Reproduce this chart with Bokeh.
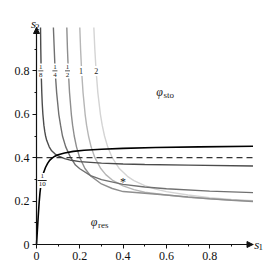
from bokeh.plotting import figure
from bokeh.models import LinearAxis, FixedTicker, Range1d, Arrow, NormalHead
from bokeh.core.properties import value
from bokeh.embed import file_html
from bokeh.resources import INLINE

# ---------------- data ----------------
tick_vals = [0, 0.2, 0.4, 0.6, 0.8]
tick_labels = ["0", "0.2", "0.4", "0.6", "0.8"]
minor_vals = [0.1, 0.3, 0.5, 0.7, 0.9]

# curve labelled 1/10 (black, rising)
x_tenth = [0, 0.004, 0.008, 0.012, 0.016, 0.02, 0.026, 0.033, 0.042, 0.052, 0.062, 0.072,
           0.085, 0.1, 0.13, 0.17, 0.22, 0.3, 0.4, 0.55, 0.75, 1.0]
y_tenth = [0, 0.065, 0.13, 0.19, 0.238, 0.272, 0.305, 0.332, 0.356, 0.375, 0.389, 0.398,
           0.407, 0.414, 0.422, 0.429, 0.434, 0.439, 0.443, 0.447, 0.45, 0.453]

# curve 1/8
x_eighth = [0.0186, 0.0198, 0.0215, 0.0244, 0.0265, 0.0295, 0.0341, 0.0383, 0.042, 0.047,
            0.0587, 0.07, 0.085, 0.1, 0.13, 0.16, 0.2, 0.3, 0.4, 0.5, 0.7, 1.0]
y_eighth = [1.0, 0.9, 0.8, 0.7, 0.65, 0.6, 0.55, 0.52, 0.5, 0.48,
            0.45, 0.432, 0.418, 0.408, 0.396, 0.388, 0.382, 0.375, 0.371, 0.369, 0.366, 0.362]

# curve 1/4
x_quarter = [0.078, 0.082, 0.086, 0.093, 0.103, 0.111, 0.12, 0.135, 0.158, 0.18, 0.2, 0.25,
             0.3, 0.4, 0.5, 0.6, 0.8, 1.0]
y_quarter = [1.0, 0.9, 0.8, 0.7, 0.6, 0.55, 0.5, 0.45, 0.4, 0.366, 0.349, 0.317,
             0.299, 0.277, 0.265, 0.257, 0.246, 0.239]

# curve 1/2
x_half = [0.140, 0.143, 0.147, 0.1526, 0.1609, 0.1667, 0.1743, 0.1847, 0.1998, 0.2239,
          0.25, 0.3, 0.35, 0.4, 0.5, 0.6, 0.7, 0.8, 0.9, 1.0]
y_half = [1.0, 0.9, 0.8, 0.7, 0.6, 0.55, 0.5, 0.45, 0.4, 0.35,
          0.316, 0.279, 0.258, 0.244, 0.236, 0.228, 0.219, 0.211, 0.204, 0.198]

# curve 1
x_one = [0.2, 0.2036, 0.2084, 0.215, 0.2246, 0.2313, 0.2402, 0.2522, 0.2696, 0.2969,
         0.32, 0.35, 0.4, 0.45, 0.5, 0.6, 0.7, 0.8, 0.9, 1.0]
y_one = [1.0, 0.9, 0.8, 0.7, 0.6, 0.55, 0.5, 0.45, 0.4, 0.35,
         0.322, 0.297, 0.27, 0.253, 0.241, 0.228, 0.218, 0.211, 0.205, 0.2]

# curve 2
x_two = [0.2649, 0.2694, 0.2753, 0.2833, 0.2952, 0.3035, 0.3142, 0.3288, 0.3498, 0.3824,
         0.42, 0.45, 0.5, 0.55, 0.6, 0.7, 0.8, 0.9, 1.0]
y_two = [1.0, 0.9, 0.8, 0.7, 0.6, 0.55, 0.5, 0.45, 0.4, 0.35,
         0.314, 0.294, 0.271, 0.255, 0.2435, 0.228, 0.216, 0.208, 0.202]

# dashed level
x_dash = [0, 1.0]
y_dash = [0.4, 0.4]

# curve labels at s2 = 0.8
frac_x = [0.020, 0.085, 0.143]
frac_num = ["1", "1", "1"]
frac_den = ["8", "4", "2"]
frac_y = [0.8, 0.8, 0.8]
int_x = [0.206, 0.276]
int_y = [0.8, 0.8]
int_txt = ["1", "2"]
tenth_x = [0.026]
tenth_y = [0.295]

star_x, star_y = [0.40], [0.30]
sto_x, sto_y = [0.568], [0.703]
res_x, res_y = [0.266], [0.104]

# axis names
name_x = [-0.014, 1.018]
name_y = [1.018, 0.002]
name_sub_x = [0.004, 1.036]
name_sub_y = [1.004, -0.012]
name_sub = ["2", "1"]

# ---------------- figure ----------------
W, H = 266, 266
ORX, ORY = 36, 244          # pixel position of the origin
SX, SY = 216.5, 217.0        # pixels per unit

p = figure(width=W, height=H,
           x_range=Range1d(-ORX / SX, (W - ORX) / SX),
           y_range=Range1d(-(H - ORY) / SY, ORY / SY),
           output_backend="svg", toolbar_location=None,
           x_axis_type=None, y_axis_type=None,
           min_border_left=0, min_border_right=0, min_border_top=0, min_border_bottom=0)
p.outline_line_color = None
p.background_fill_color = "white"
p.border_fill_color = "white"

FONT = "Liberation Serif"
INK = "#111111"


def style(ax):
    ax.axis_line_width = 1.2
    ax.axis_line_color = INK
    ax.major_tick_out = 4
    ax.major_tick_in = 0
    ax.minor_tick_out = 2
    ax.minor_tick_in = 0
    ax.major_tick_line_color = INK
    ax.minor_tick_line_color = INK
    ax.major_label_text_font = FONT
    ax.major_label_text_font_size = "12px"
    ax.major_label_text_color = INK
    ax.major_label_standoff = 3
    ax.major_label_overrides = {t: l for t, l in zip(tick_vals, tick_labels)}


xa = LinearAxis(ticker=FixedTicker(ticks=tick_vals, minor_ticks=minor_vals),
                bounds=(0, 1), fixed_location=0)
ya = LinearAxis(ticker=FixedTicker(ticks=tick_vals, minor_ticks=minor_vals),
                bounds=(0, 1), fixed_location=0)
style(xa)
style(ya)
p.add_layout(xa, "below")
p.add_layout(ya, "left")

# curves (light to dark)
p.line(x_two, y_two, line_color="#d4d4d4", line_width=1.4)
p.line(x_one, y_one, line_color="#b6b6b6", line_width=1.4)
p.line(x_half, y_half, line_color="#8e8e8e", line_width=1.4)
p.line(x_quarter, y_quarter, line_color="#707070", line_width=1.4)
p.line(x_eighth, y_eighth, line_color="#4c4c4c", line_width=1.4)
p.line(x_dash, y_dash, line_color="#333333", line_width=1.3, line_dash="6 4")
p.line(x_tenth, y_tenth, line_color="#000000", line_width=1.6)

# white boxes behind curve labels
p.rect(frac_x, frac_y, width=8, height=15, width_units="screen", height_units="screen",
       fill_color="white", line_color=None)
p.rect(int_x, int_y, width=7, height=10, width_units="screen", height_units="screen",
       fill_color="white", line_color=None)
p.rect(tenth_x, tenth_y, width=12, height=15, width_units="screen", height_units="screen",
       fill_color="white", line_color=None)

txt = dict(text_font=value(FONT), text_color="#222222", text_align="center",
           text_baseline="middle")
p.text(frac_x, frac_y, text=frac_num, y_offset=-4, text_font_size=value("7px"), **txt)
p.text(frac_x, frac_y, text=frac_den, y_offset=4, text_font_size=value("7px"), **txt)
p.rect(frac_x, frac_y, width=5, height=0.8, width_units="screen", height_units="screen",
       fill_color="#222222", line_color=None)
p.text(int_x, int_y, text=int_txt, text_font_size=value("8px"), **txt)
p.text(tenth_x, tenth_y, text=["1"], y_offset=-4, text_font_size=value("7px"), **txt)
p.text(tenth_x, tenth_y, text=["10"], y_offset=4, text_font_size=value("7px"), **txt)
p.rect(tenth_x, tenth_y, width=9, height=0.8, width_units="screen", height_units="screen",
       fill_color="#222222", line_color=None)

# star and region labels
p.text(star_x, star_y, text=["*"], text_font_size=value("12px"), y_offset=3, **txt)
p.text(sto_x, sto_y, text=["φ"], text_font_size=value("12px"), text_font_style="italic", **txt)
p.text(sto_x, sto_y, text=["sto"], x_offset=4, y_offset=3, text_font=value(FONT),
       text_font_size=value("9px"), text_color="#222222", text_align="left",
       text_baseline="middle")
p.text(res_x, res_y, text=["φ"], text_font_size=value("12px"), text_font_style="italic", **txt)
p.text(res_x, res_y, text=["res"], x_offset=4, y_offset=3, text_font=value(FONT),
       text_font_size=value("9px"), text_color="#222222", text_align="left",
       text_baseline="middle")

# axis names
p.text(name_x, name_y, text=["s", "s"], text_font=value(FONT), text_font_size=value("13px"),
       text_font_style="italic", text_align="center", text_baseline="middle", text_color=INK)
p.text(name_sub_x, name_sub_y, text=name_sub, text_font=value(FONT),
       text_font_size=value("9px"), text_align="center", text_baseline="middle",
       text_color=INK)

# axis arrow heads
head = dict(size=6, fill_color=INK, line_color=INK, line_width=1)
p.add_layout(Arrow(end=NormalHead(**head), x_start=0, y_start=0.97, x_end=0, y_end=1.0,
                   line_color=INK, line_width=1.2))
p.add_layout(Arrow(end=NormalHead(**head), x_start=0.97, y_start=0, x_end=1.0, y_end=0,
                   line_color=INK, line_width=1.2))

open("out.html", "w").write(file_html(p, INLINE))
